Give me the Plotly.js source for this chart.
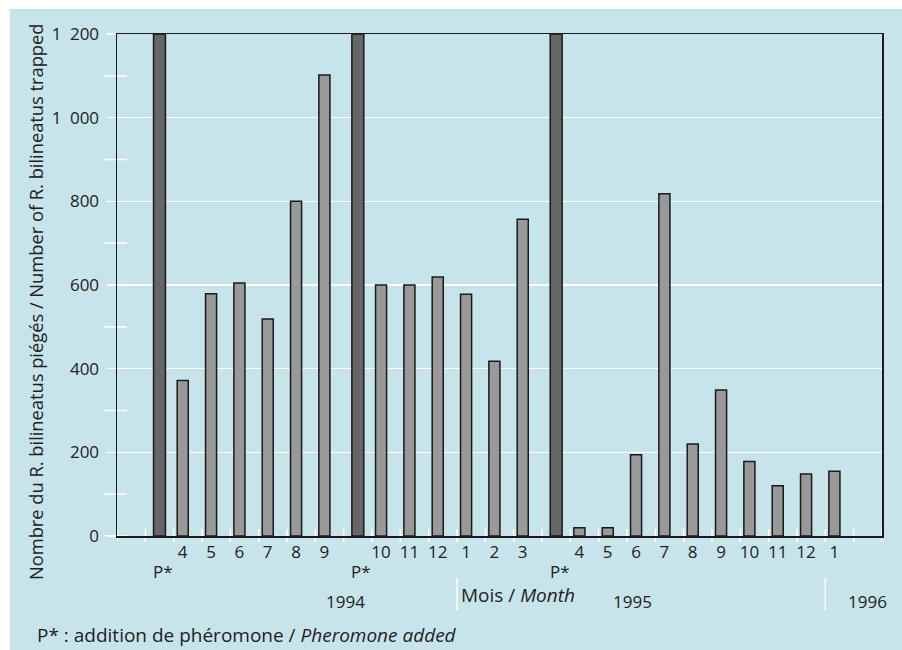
<!DOCTYPE html>
<html>
<head>
<meta charset="utf-8">
<script src="https://cdn.plot.ly/plotly-3.0.1.min.js"></script>
<style>html,body{margin:0;padding:0;background:#fff;}</style>
</head>
<body>
<div id="chart" style="width:902px;height:650px;"></div>
<script>
// ---- DATA ----
const slotLabels = ['', 'P*', '4', '5', '6', '7', '8', '9', 'P*', '10', '11', '12', '1', '2', '3',
                    'P*', '4', '5', '6', '7', '8', '9', '10', '11', '12', '1', ''];
const trapped = [null, 1200, 372, 579, 605, 519, 800, 1102, 1200, 600, 600, 619, 578, 418, 757,
                 1200, 20, 20, 194, 818, 220, 349, 178, 120, 148, 155, null];
const yTicks = [0, 200, 400, 600, 800, 1000, 1200];
const yMinorTicks = [0, 100, 300, 500, 700, 900, 1100];
const years = ['1994', '1995', '1996'];
const yTitle = 'Nombre du R. bilineatus piégés / Number of R. bilineatus trapped';
const xTitle = 'Mois / <i>Month</i>';
const footnote = 'P* : addition de phéromone / <i>Pheromone added</i>';

// ---- BUILD ----
const PX_W = 765, PX_H = 502, L = 117, T = 34, B0 = 536;
const px2x = p => (p - L) / PX_W;
const px2y = p => (B0 - p) / PX_H;

const monthX = [], monthY = [], pherX = [], pherY = [];
const tickVals = [], tickText = [];
slotLabels.forEach((lab, i) => {
  if (lab === '') return;
  if (lab === 'P*') {
    pherX.push(i); pherY.push(trapped[i]);
  } else {
    monthX.push(i); monthY.push(trapped[i]);
    tickVals.push(i - 0.18); tickText.push(lab);
  }
});
const yTickText = yTicks.map(v => v >= 1000
  ? Math.floor(v / 1000) + '\u2002' + String(v % 1000).padStart(3, '0') : String(v));

const fam = 'Open Sans, sans-serif';
const font = {family: fam, size: 17, color: '#222'};
const textFont = {family: fam, size: 19, color: '#222'};
const edge = '#1a1a1a';

const traces = [
  {type: 'bar', x: monthX, y: monthY, width: 0.39, offset: -0.375,
   marker: {color: '#999999', line: {color: edge, width: 1.5}}, hoverinfo: 'x+y', showlegend: false},
  {type: 'bar', x: pherX, y: pherY, width: 0.42, offset: -0.21,
   marker: {color: '#666666', line: {color: edge, width: 1.5}}, hoverinfo: 'x+y', showlegend: false}
];

const shapes = [
  {type: 'rect', xref: 'paper', yref: 'paper', x0: px2x(10), x1: px2x(910), y0: px2y(660), y1: px2y(9),
   fillcolor: '#c7e4ea', line: {width: 0}, layer: 'below'}
];
yMinorTicks.forEach(v => shapes.push({type: 'line', xref: 'paper', yref: 'y', x0: px2x(104), x1: px2x(127),
  y0: v, y1: v, line: {color: '#ffffff', width: 1.5}, layer: 'below'}));
for (let i = 0; i <= slotLabels.length; i++) {
  shapes.push({type: 'line', xref: 'x', yref: 'paper', x0: i - 0.5, x1: i - 0.5, y0: px2y(529), y1: px2y(542),
    line: {color: '#ffffff', width: 1.5}, layer: 'below'});
}
[11.5, 24.5].forEach(xv => shapes.push({type: 'line', xref: 'x', yref: 'paper', x0: xv, x1: xv,
  y0: px2y(578), y1: px2y(610), line: {color: '#ffffff', width: 1.5}, layer: 'below'}));

// P* labels under the pheromone bars
const annotations = pherX.map(xv => ({text: 'P*', xref: 'x', yref: 'paper', x: xv + 0.12, y: px2y(571),
  xanchor: 'center', yanchor: 'middle', showarrow: false, font: font}));
const yearX = [7.55, 17.68, 26.0];
years.forEach((yr, k) => annotations.push({text: yr, xref: 'x', yref: 'paper', x: yearX[k], y: px2y(602),
  xanchor: 'center', yanchor: 'middle', showarrow: false, font: font}));
annotations.push({text: xTitle, xref: 'x', yref: 'paper', x: 11.5, xshift: 2, y: px2y(595),
  xanchor: 'left', yanchor: 'middle', showarrow: false, font: textFont});
annotations.push({text: footnote, xref: 'paper', yref: 'paper', x: px2x(35), y: px2y(635),
  xanchor: 'left', yanchor: 'middle', showarrow: false, font: textFont});
annotations.push({text: yTitle, xref: 'paper', yref: 'paper', x: px2x(35), y: px2y(302), textangle: -90,
  xanchor: 'center', yanchor: 'middle', showarrow: false, font: {family: fam, size: 18.3, color: '#222'}});

const layout = {
  width: 902, height: 650,
  margin: {l: L, r: 902 - L - PX_W, t: T, b: 650 - B0, pad: 0},
  paper_bgcolor: '#ffffff', plot_bgcolor: 'rgba(0,0,0,0)',
  barmode: 'overlay',
  font: font, showlegend: false,
  xaxis: {range: [-0.5, slotLabels.length - 0.5], tickvals: tickVals, ticktext: tickText, tickangle: 0,
    ticks: '', showgrid: false, zeroline: false, showline: true, linecolor: edge, linewidth: 1.5,
    mirror: true, tickfont: font, ticklabelstandoff: 0, fixedrange: true},
  yaxis: {range: [0, 1200], tickvals: yTicks, ticktext: yTickText,
    ticks: 'outside', ticklen: 9, tickwidth: 1.5, tickcolor: '#ffffff',
    showgrid: true, gridcolor: '#ffffff', gridwidth: 1.5, zeroline: false,
    showline: true, linecolor: edge, linewidth: 1.5, mirror: true, tickfont: font,
    ticklabelstandoff: 4, fixedrange: true},
  shapes: shapes, annotations: annotations
};

Plotly.newPlot('chart', traces, layout, {displayModeBar: false, staticPlot: true});
</script>
</body>
</html>
